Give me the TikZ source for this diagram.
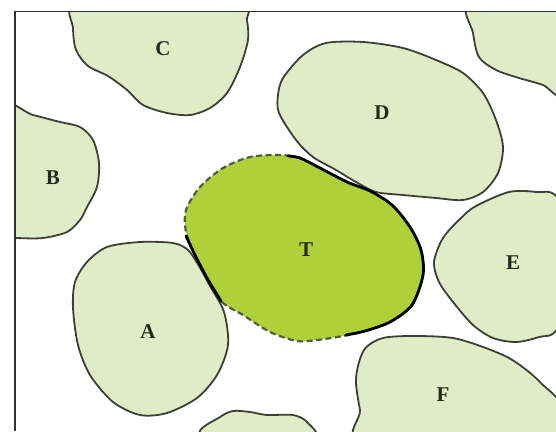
\documentclass[tikz,border=0pt]{standalone}
\usepackage{fontspec}
\setmainfont{Liberation Serif}
\definecolor{cellfill}{RGB}{226,235,199}
\definecolor{cellline}{RGB}{62,64,54}
\definecolor{targetfill}{RGB}{176,208,58}
\definecolor{dashline}{RGB}{84,92,62}
\definecolor{labeltext}{RGB}{38,42,28}
\definecolor{frameline}{RGB}{50,50,50}

\begin{document}
\begin{tikzpicture}[x=1pt, y=-1pt,
  cell/.style={fill=cellfill, draw=cellline, line width=1.8pt},
  target/.style={fill=targetfill, draw=dashline, line width=2.2pt, dash pattern=on 6pt off 3.5pt},
  contact/.style={draw=black, line width=2.8pt, line cap=round},
  tag/.style={text=labeltext, font=\fontsize{21}{24}\selectfont\bfseries}]
  \useasboundingbox (0,0) rectangle (556,431);

  \begin{scope}
    \clip (15,11.5) rectangle (556,431);
    % neighbouring cells
    \draw[cell] plot[smooth cycle] coordinates {(160,-12) (243,2) (247,20) (248,40) (240,67) (227,93)
      (210,108) (190,115) (167,113) (143,105) (127,90) (108,76) (88,66) (76,50) (73,28) (75,2)};
    \draw[cell] plot[smooth cycle] coordinates {(-10,104) (33,115) (60,122) (80,127) (93,140) (99,163)
      (97,187) (87,207) (80,220) (67,232) (43,238) (17,238) (-10,236)};
    \draw[cell] plot[smooth cycle] coordinates {(107,247) (140,242) (173,243) (188,250) (199,266) (210,286)
      (224,312) (228,345) (217,375) (197,398) (167,413) (140,415) (113,402) (90,375) (78,345)
      (73,308) (75,282) (87,262)};
    \draw[cell] plot[smooth cycle] coordinates {(303,55) (326,43) (363,42) (403,48) (436,60) (463,73)
      (483,93) (496,120) (503,147) (498,173) (483,192) (463,200) (436,198) (403,195) (376,192)
      (356,182) (336,170) (313,157) (296,140) (279,113) (278,95) (283,78)};
    \draw[cell] plot[smooth cycle] coordinates {(470,0) (473,33) (479,57) (496,70) (519,78) (543,85)
      (565,95) (600,40) (560,-10)};
    \draw[cell] plot[smooth cycle] coordinates {(476,206) (509,192) (536,192) (558,198) (585,260)
      (558,328) (539,337) (516,342) (493,338) (473,325) (453,302) (439,282) (434,262) (443,238)
      (461,218)};
    \draw[cell] plot[smooth cycle] coordinates {(364,350) (383,338) (416,336) (453,338) (483,347)
      (509,358) (529,372) (543,385) (560,402) (580,440) (368,445) (360,410) (356,378)};
    \draw[cell] plot[smooth cycle] coordinates {(200,434) (220,417) (233,411) (250,412) (267,415)
      (293,415) (307,422) (315,440) (250,455)};

    % target cell
    \draw[target] plot[smooth cycle] coordinates {(280,155) (300,158) (320,168) (347,182) (370,191)
      (392,205) (410,227) (421,250) (423,275) (412,305) (390,322) (365,331) (343,336) (317,340)
      (297,341) (270,332) (243,315) (222,302) (207,278) (195,255) (186,232) (186,210) (200,187)
      (223,168) (250,157)};
    % shared borders
    \draw[contact] plot[smooth] coordinates {(288,156) (300,158) (320,168) (347,182) (370,191)
      (392,205) (410,227) (421,250) (423,275) (412,305) (390,322) (365,331) (346,335)};
    \draw[contact] plot[smooth] coordinates {(186,236) (195,255) (207,278) (221,301)};
  \end{scope}

  \draw[frameline, line width=1.6pt] (556,11.5) -- (15,11.5) -- (15,431);

  \node[tag] (C) at (163,49) {C};
  \node[tag] (B) at (53,178) {B};
  \node[tag] (D) at (382,113) {D};
  \node[tag] (T) at (306,250) {T};
  \node[tag] (E) at (513,263) {E};
  \node[tag] (A) at (148,332) {A};
  \node[tag] (F) at (443,395) {F};
\end{tikzpicture}
\end{document}
